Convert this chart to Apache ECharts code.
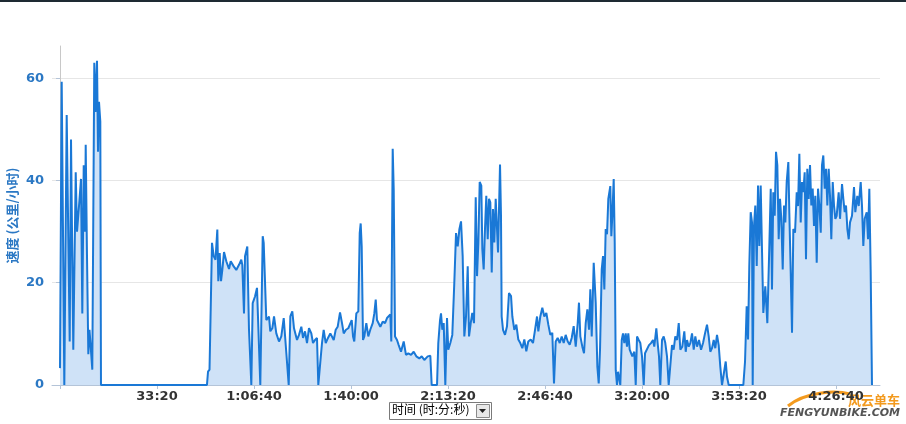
<!DOCTYPE html>
<html><head><meta charset="utf-8">
<script src="https://cdn.jsdelivr.net/npm/echarts@6/dist/echarts.min.js"></script>
<style>html,body{margin:0;padding:0;background:#fff}#c{width:906px;height:424px}</style>
</head><body><div id="c"></div>
<script>
// elapsed time (seconds) and speed (km/h)
const times = [
0,35,89,138,175,200,227,274,324,351,392,433,460,489,516,530,557,584,608,666,707,732,763,784,804,831,845,
3030,3052,3083,3134,3169,3206,3244,3264,3293,3320,3347,3382,3429,3485,3520,3582,3635,3691,3738,3759,3794,3815,3862,3897,3945,3973,4021,4062,4130,4180,4200,4254,4310,4336,4378,4413,4460,4516,4563,4613,4654,4716,4749,4790,4825,4860,4887,4928,4976,5011,5052,5093,5134,5182,5217,5258,5299,5326,5367,5402,5437,5479,5526,5574,
5644,5685,5726,5774,5815,5850,5897,5945,5986,6015,6042,6068,6110,6151,6180,6200,6221,6248,6275,6316,6357,6398,6448,6481,6510,6536,6572,6605,6654,6702,6743,6784,6811,6831,6860,6881,6908,6949,6984,7031,7087,7134,7182,7238,7293,7347,7409,7458,7512,7582,7636,7664,7774,7800,7836,7856,7883,7912,7945,7980,8006,8048,8089,8130,8166,8201,8234,8269,8303,8337,8372,8407,
8434,8469,8501,8537,8572,8599,8626,8654,8687,8708,8736,8763,8790,8819,8846,8873,8902,8928,8955,8984,9011,9032,9073,9093,9107,9135,9176,9217,9258,9300,9327,9368,9409,9450,9491,9533,9574,9615,9656,9706,9753,9795,9836,9863,9904,9945,9986,10028,10069,10110,10151,10186,10221,10262,10304,10345,10386,10427,10469,10510,10551,10592,10634,10675,10701,10729,10770,10805,10840,10874,10908,10935,10964,11005,11046,11080,11108,11135,11170,11197,11224,11252,11279,11306,
11347,11368,11388,11417,11438,11459,11485,11506,11533,11553,11583,11609,11636,11665,11691,11718,11747,11774,11801,11842,11871,11898,11933,11966,12001,12036,12063,12104,12145,12186,12228,12254,12296,12323,12351,12378,12413,12448,12481,12516,12551,12584,12619,12654,12687,12723,12758,12791,12832,12873,12902,12929,12964,12997,13032,13067,13100,13135,13176,13218,13259,13300,13341,13376,13409,13444,13479,13512,13547,13582,13615,13650,13685,13727,13753,13788,
14090,14125,14159,14187,14213,14242,14269,14283,14310,14337,14366,14393,14420,14448,14476,14502,14543,14585,14626,14655,14681,14708,14737,14764,14791,14819,14846,14873,14902,14929,14956,14984,15018,15038,15067,15094,15121,15156,15191,15218,15245,15273,15300,15327,15355,15382,15409,15438,15465,15492,15520,15547,15574,15603,15630,15657,15686,15712,15739,15768,15795,15822,15850,15877,15904,15933,15960,15987,16015,16056,16084,16125,16152,16180,16207,16235,16263,16290,16331,16372,16399,16440,16469,16510,16537,16564,16593,16634,16661,16688,16716,16743
];
const speeds = [
3.3,59.3,0,52.8,26,8.5,48,6.9,41.6,30,35,40.3,14,43,30,47,25,6,10.8,3,63,53.4,63.4,45.6,55.4,51.5,0,
0,2.6,3,27.8,25.2,24.5,30.4,20.3,25.8,20.3,22.5,26,24.2,22.7,24.2,23.2,22.5,23.5,24.5,23.5,14,25.2,27.1,10.8,0,16,17.3,19,0,29.1,27.8,12.7,13.4,10.5,11.1,13.4,10.1,8.5,9.5,13.1,13.4,0,13.4,14.4,11.1,11.4,8.8,9.8,11.4,9.2,10.5,8.2,11.1,10.1,8.2,8.8,9.2,0,0,8.2,10.8,8.2,9.2,10.1,
8.8,10.8,11.4,14.2,12.1,10.1,10.8,11.1,11.4,12.7,9.5,8.5,14,14.4,29.7,31.6,27.1,8.8,9.5,12.1,9.5,10.8,12.1,14,16.7,12.7,12.4,11.4,12.4,12.1,13.1,13.4,13.8,8.5,46.2,38.2,9.5,8.8,7.8,6.5,8.5,5.9,6.2,5.9,6.5,5.6,5.2,5.6,4.9,5.6,5.7,0,0,8.2,12.7,14,10.8,12.1,0,13.1,6.9,8.2,9.8,19.9,29.7,27.1,30.4,32,25.2,9.5,13.4,23.2,
9.5,12.1,14.1,12.1,36.7,21.3,27.9,39.7,39,26.6,22.6,30.5,37,28.5,36.4,35.7,22,34.4,27.9,36.4,30.5,25.9,43.1,33.1,13.4,10.8,9.8,11.5,18,17.4,13.4,10.8,11.8,8.9,8.2,7.2,8.9,6.6,8.5,8.9,8.2,10.8,13.4,10.5,13.4,15.1,13.4,14.1,11.8,9.8,10.2,0.3,8.5,9.2,8.2,9.5,8.2,9.8,8.5,7.9,9.2,11.5,7.5,12.1,16.1,9.5,7.5,6.2,12.1,14.8,10.8,18.7,9.5,23.9,16.1,3.6,0.3,6.9,22.6,25.2,18.7,30.5,29.5,36.4,
38.9,29.1,33,40.3,27.8,2.9,0,2.6,2.3,0,8.8,10.1,8.2,10.1,7.5,10.1,6.9,7.2,5.6,6.5,0,9.5,8.8,8.2,5.6,0,6.2,6.5,7.8,8.2,8.8,7.5,11.1,8.2,5.6,0,8.8,9.5,8.2,5.6,0,0,7.8,6.9,9.5,8.8,12.1,6.9,7.5,10.5,6.5,8.8,7.5,8.2,10.1,6.9,9.5,7.5,8.8,6.9,8.2,10.1,11.8,9.5,6.5,7.2,8.8,7.2,9.8,7.8,3.6,0,0,4.6,1.6,0,
0,4.6,15.4,8.9,23.3,33.8,31.8,0,31.1,35.1,23.3,39,27.2,39,25.9,14.1,19.3,12.1,27.2,38.4,18.7,37.7,33.1,45.6,43,28.5,36.4,32.5,22.6,35.1,31.8,39.7,43.6,33.8,22,10.2,30.5,29.8,37.7,35,45.2,31.8,39.7,37.7,41.6,24.6,42.3,36.4,43,35.1,38.4,31.1,37,23.9,38.4,35.1,29.8,43,44.9,38.4,42.3,35.1,42.3,37,28.5,39.7,35.1,32.5,33.1,37.7,32.5,39.3,36.4,33.8,35.1,30.5,28.5,31.8,33.1,38.7,33.8,37,35,39.7,35,27.2,32.5,33.8,28.5,38.4,22,0
];
const xTickValues = [0,2000,4000,6000,8000,10000,12000,14000,16000];
const xLabelValues = [2000,4000,6000,8000,10000,12000,14000,16000];
const yTickValues = [0,20,40,60];

const data = times.map((t,i)=>[t, speeds[i]]);
function fmt(s){
  const h=Math.floor(s/3600), m=Math.floor((s%3600)/60), sec=Math.round(s%60);
  const p=n=>String(n).padStart(2,'0');
  return h>0 ? h+':'+p(m)+':'+p(sec) : m+':'+p(sec);
}
const chart = echarts.init(document.getElementById('c'));
chart.setOption({
  animation:false,
  backgroundColor:'#ffffff',
  grid:{left:52,right:26,top:46,bottom:39,containLabel:false,outerBoundsMode:'none'},
  xAxis:{
    type:'value', min:-165, max:16908,
    axisLine:{lineStyle:{color:'#b4c4d8',width:1}},
    axisTick:{customValues:xTickValues,length:4,lineStyle:{color:'#b4c4d8'}},
    axisLabel:{customValues:xLabelValues,formatter:fmt,color:'#333',fontFamily:'DejaVu Sans',fontSize:13,fontWeight:'bold',margin:5},
    splitLine:{show:false}
  },
  yAxis:{
    type:'value', min:0, max:66.3,
    name:'速度 (公里/小时)', nameLocation:'middle', nameGap:33, nameRotate:90, nameMoveOverlap:false,
    nameTextStyle:{color:'#2b78c4',fontFamily:'Noto Sans CJK SC',fontSize:13,fontWeight:'bold'},
    axisLine:{show:true,lineStyle:{color:'#c8c8c8'}},
    axisTick:{show:true,customValues:yTickValues,length:4,lineStyle:{color:'#b4c4d8'}},
    axisLabel:{customValues:yTickValues,color:'#2b78c4',fontFamily:'DejaVu Sans',fontSize:13,fontWeight:'bold',margin:8},
    splitLine:{show:true,lineStyle:{color:'#e6e6e6'}}
  },
  series:[{
    type:'line', data:data, symbol:'none', sampling:false,
    lineStyle:{color:'#1a78d6',width:2},
    areaStyle:{color:'#cfe2f7',opacity:1},
    itemStyle:{color:'#1a78d6'}
  }],
  graphic:[
    {type:'rect',left:0,top:0,shape:{width:906,height:2},style:{fill:'#1e2a33'}},
    {type:'rect',left:389,top:402,shape:{width:102,height:17},style:{fill:'#fff',stroke:'#7a7a7a',lineWidth:1}},
    {type:'text',left:392,top:403,style:{text:'时间 (时:分:秒)',fill:'#000',font:'12px "Noto Sans CJK SC"'}},
    {type:'rect',left:476,top:404,shape:{width:13,height:13},style:{fill:'#e8e8e8',stroke:'#8a8a8a',lineWidth:1}},
    {type:'polygon',shape:{points:[[479,409],[486,409],[482.5,413]]},style:{fill:'#222'}},
    {type:'bezierCurve',shape:{x1:788,y1:406,x2:850,y2:394,cpx1:805,cpy1:392,cpx2:835,cpy2:390},style:{stroke:'#f39a1e',lineWidth:3,fill:null}},
    {type:'text',right:6,top:394,style:{text:'风云单车',fill:'#f39a1e',font:'bold 13px "Noto Sans CJK SC"'}},
    {type:'text',right:6,top:408,style:{text:'FENGYUNBIKE.COM',fill:'#555',font:'italic bold 11px "DejaVu Sans"'}}
  ]
});
</script>
</body></html>
